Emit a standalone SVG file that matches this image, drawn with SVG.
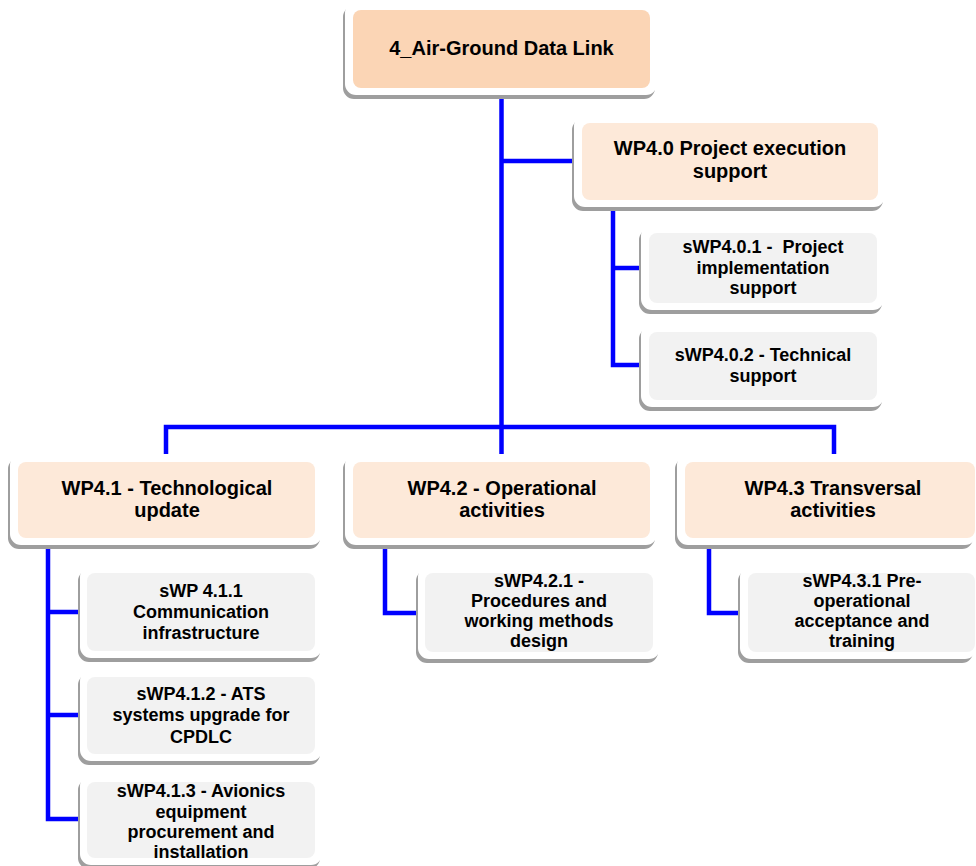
<svg xmlns="http://www.w3.org/2000/svg" width="976" height="866" viewBox="0 0 976 866">
<style>
.sh{fill:#9e9e9e}
.out{fill:#ffffff}
.top{fill:#fbd5b5}
.wp{fill:#fde9d9}
.sub{fill:#f2f2f2}
.c{fill:none;stroke:#0000ff;stroke-width:4.5}
text{font-family:"Liberation Sans",Arial,sans-serif;font-weight:bold;fill:#000;text-anchor:middle}
.h{font-size:20px}
.s{font-size:18px}
</style>
<defs>
<filter id="blur" x="-5%" y="-5%" width="110%" height="120%"><feGaussianBlur stdDeviation="0.5"/></filter>
</defs>
<g id="connectors">
<path class="c" d="M501.5 96 V427"/>
<path class="c" d="M501.5 161 H575"/>
<path class="c" d="M166 455 V427 H834 V455"/>
<path class="c" d="M501.5 427 V455"/>
<path class="c" d="M613 207 V365 H642"/>
<path class="c" d="M613 268 H642"/>
<path class="c" d="M48 545 V819 H81"/>
<path class="c" d="M48 612 H81"/>
<path class="c" d="M48 715 H81"/>
<path class="c" d="M385 545 V613 H419"/>
<path class="c" d="M709 545 V613 H741"/>
</g>
<g id="n-root">
<rect class="sh" x="343" y="6" width="312" height="93" rx="11" filter="url(#blur)"/>
<rect class="out" x="345" y="2" width="312" height="93" rx="11"/>
<rect class="top" x="353" y="10" width="297" height="78" rx="8"/>
<text class="h" x="501.5" y="55">4_Air-Ground Data Link</text>
</g>
<g id="n-wp40">
<rect class="sh" x="572" y="119" width="311" height="92" rx="11" filter="url(#blur)"/>
<rect class="out" x="574" y="115" width="311" height="92" rx="11"/>
<rect class="wp" x="582" y="123" width="296" height="77" rx="8"/>
<text class="h" x="730" y="155">WP4.0 Project execution</text>
<text class="h" x="730" y="178">support</text>
</g>
<g id="n-swp401">
<rect class="sh" x="639" y="229" width="243" height="85" rx="11" filter="url(#blur)"/>
<rect class="out" x="641" y="225" width="243" height="85" rx="11"/>
<rect class="sub" x="649" y="233" width="228" height="70" rx="8"/>
<text class="s" x="763" y="253" style="white-space:pre">sWP4.0.1 -  Project</text>
<text class="s" x="763" y="274">implementation</text>
<text class="s" x="763" y="294">support</text>
</g>
<g id="n-swp402">
<rect class="sh" x="639" y="328" width="243" height="83" rx="11" filter="url(#blur)"/>
<rect class="out" x="641" y="324" width="243" height="83" rx="11"/>
<rect class="sub" x="649" y="332" width="228" height="68" rx="8"/>
<text class="s" x="763" y="361">sWP4.0.2 - Technical</text>
<text class="s" x="763" y="382">support</text>
</g>
<g id="n-wp41">
<rect class="sh" x="8" y="458" width="312" height="91" rx="11" filter="url(#blur)"/>
<rect class="out" x="10" y="454" width="312" height="91" rx="11"/>
<rect class="wp" x="18" y="462" width="297" height="76" rx="8"/>
<text class="h" x="167" y="495">WP4.1 - Technological</text>
<text class="h" x="167" y="517">update</text>
</g>
<g id="n-wp42">
<rect class="sh" x="343" y="458" width="312" height="91" rx="11" filter="url(#blur)"/>
<rect class="out" x="345" y="454" width="312" height="91" rx="11"/>
<rect class="wp" x="353" y="462" width="297" height="76" rx="8"/>
<text class="h" x="502" y="495">WP4.2 - Operational</text>
<text class="h" x="502" y="517">activities</text>
</g>
<g id="n-wp43">
<rect class="sh" x="675" y="458" width="298" height="91" rx="11" filter="url(#blur)"/>
<rect class="out" x="677" y="454" width="299" height="91" rx="11"/>
<rect class="wp" x="685" y="462" width="290" height="76" rx="8"/>
<text class="h" x="833" y="495">WP4.3 Transversal</text>
<text class="h" x="833" y="517">activities</text>
</g>
<g id="n-swp411">
<rect class="sh" x="78" y="570" width="242" height="92" rx="11" filter="url(#blur)"/>
<rect class="out" x="80" y="566" width="242" height="92" rx="11"/>
<rect class="sub" x="87" y="573" width="228" height="78" rx="8"/>
<text class="s" x="201" y="597">sWP 4.1.1</text>
<text class="s" x="201" y="618">Communication</text>
<text class="s" x="201" y="639">infrastructure</text>
</g>
<g id="n-swp412">
<rect class="sh" x="78" y="674" width="242" height="91" rx="11" filter="url(#blur)"/>
<rect class="out" x="80" y="670" width="242" height="91" rx="11"/>
<rect class="sub" x="87" y="677" width="228" height="77" rx="8"/>
<text class="s" x="201" y="700">sWP4.1.2 - ATS</text>
<text class="s" x="201" y="721">systems upgrade for</text>
<text class="s" x="201" y="743">CPDLC</text>
</g>
<g id="n-swp413">
<rect class="sh" x="78" y="779" width="242" height="90" rx="11" filter="url(#blur)"/>
<rect class="out" x="80" y="775" width="242" height="90" rx="11"/>
<rect class="sub" x="87" y="782" width="228" height="76" rx="8"/>
<text class="s" x="201" y="797">sWP4.1.3 - Avionics</text>
<text class="s" x="201" y="818">equipment</text>
<text class="s" x="201" y="838">procurement and</text>
<text class="s" x="201" y="858">installation</text>
</g>
<g id="n-swp421">
<rect class="sh" x="416" y="570" width="242" height="93" rx="11" filter="url(#blur)"/>
<rect class="out" x="418" y="566" width="242" height="93" rx="11"/>
<rect class="sub" x="425" y="573" width="228" height="79" rx="8"/>
<text class="s" x="539" y="587">sWP4.2.1 -</text>
<text class="s" x="539" y="607">Procedures and</text>
<text class="s" x="539" y="627">working methods</text>
<text class="s" x="539" y="647">design</text>
</g>
<g id="n-swp431">
<rect class="sh" x="738" y="570" width="235" height="93" rx="11" filter="url(#blur)"/>
<rect class="out" x="740" y="566" width="236" height="93" rx="11"/>
<rect class="sub" x="748" y="573" width="227" height="79" rx="8"/>
<text class="s" x="862" y="587">sWP4.3.1 Pre-</text>
<text class="s" x="862" y="607">operational</text>
<text class="s" x="862" y="627">acceptance and</text>
<text class="s" x="862" y="647">training</text>
</g>
</svg>
